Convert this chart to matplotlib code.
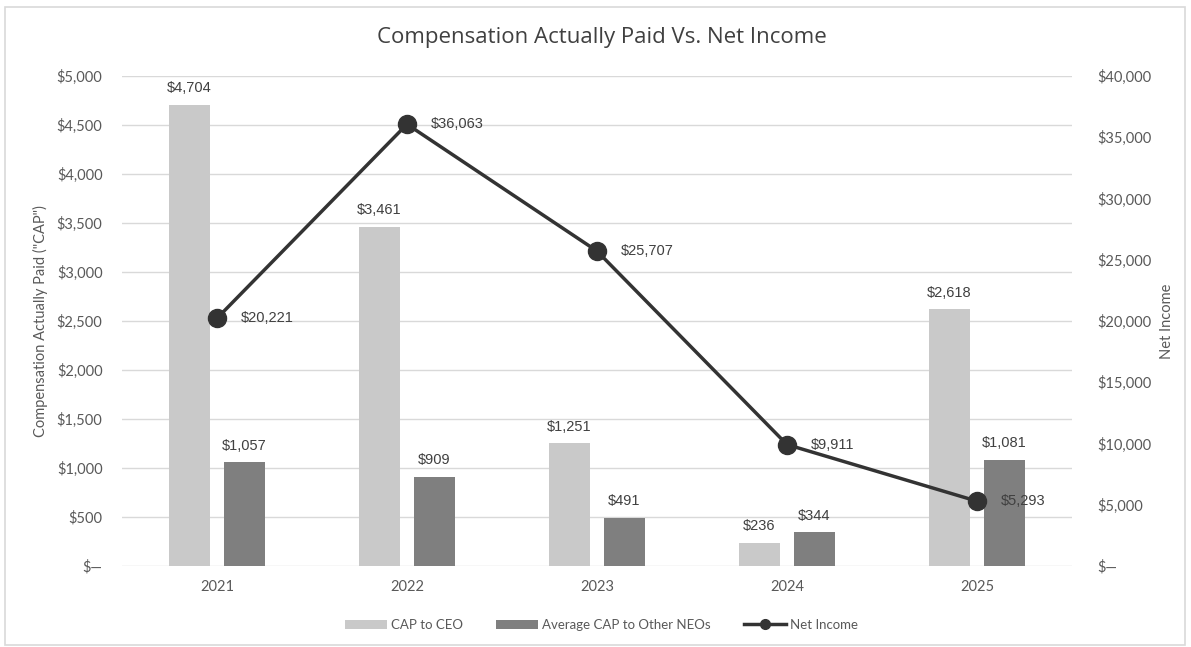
import matplotlib
matplotlib.use("Agg")
import matplotlib.pyplot as plt
import numpy as np
from matplotlib.patches import Rectangle

years = ["2021", "2022", "2023", "2024", "2025"]
cap_ceo = [4704, 3461, 1251, 236, 2618]
cap_neo = [1057, 909, 491, 344, 1081]
net_income = [20221, 36063, 25707, 9911, 5293]
left_ticks = [0, 500, 1000, 1500, 2000, 2500, 3000, 3500, 4000, 4500, 5000]
right_ticks = [0, 5000, 10000, 15000, 20000, 25000, 30000, 35000, 40000]

plt.rcParams['font.family'] = ['Lato', 'DejaVu Sans']
TXT = '#595959'

fig = plt.figure(figsize=(11.91, 6.47), dpi=100)
fig.patches.append(Rectangle((5/1191, 1 - 645/647), 1180/1191, 638/647, transform=fig.transFigure,
                             fill=False, edgecolor='#d9d9d9', lw=1.2))
ax = fig.add_axes([122/1191, 1 - 566/647, 950/1191, 490/647])
ax2 = ax.twinx()

x = np.arange(len(years))
w = 0.215
off = 0.145
b1 = ax.bar(x - off, cap_ceo, w, color='#c9c9c9', label='CAP to CEO', zorder=2)
b2 = ax.bar(x + off, cap_neo, w, color='#7f7f7f', label='Average CAP to Other NEOs', zorder=2)

def fmt(v):
    return "$" + format(v, ",")

for rect, v in zip(list(b1) + list(b2), cap_ceo + cap_neo):
    ax.annotate(fmt(v), (rect.get_x() + rect.get_width() / 2, v), xytext=(0, 7),
                textcoords='offset points', ha='center', va='bottom', fontsize=10.5, color='#404040',
                family=['Liberation Sans', 'DejaVu Sans'])

ln, = ax2.plot(x, net_income, color='#333333', lw=2.5, marker='o', markersize=13,
               markerfacecolor='#333333', markeredgecolor='#333333', label='Net Income', zorder=3)
for xi, v in zip(x, net_income):
    ax2.annotate(fmt(v), (xi, v), xytext=(17, 0), textcoords='offset points', ha='left',
                 va='center', fontsize=10.5, color='#404040', family=['Liberation Sans', 'DejaVu Sans'])

ax.set_xlim(-0.5, len(years) - 0.5)
ax.set_ylim(0, 5000)
ax2.set_ylim(0, 40000)
ax.set_yticks(left_ticks)
ax.set_yticklabels(["$\u2014" if t == 0 else fmt(t) for t in left_ticks])
ax2.set_yticks(right_ticks)
ax2.set_yticklabels(["$\u2014" if t == 0 else fmt(t) for t in right_ticks])
ax.set_xticks(x)
ax.set_xticklabels(years)

for a in (ax, ax2):
    for s in a.spines.values():
        s.set_visible(False)
    a.tick_params(length=0, colors=TXT, labelsize=10.5)
ax.tick_params(axis='y', pad=14)
ax2.tick_params(axis='y', pad=18)
ax.tick_params(axis='x', pad=10)
ax.grid(axis='y', color='#d9d9d9', lw=1, zorder=0)
ax.set_axisbelow(True)

ax.set_ylabel('Compensation Actually Paid ("CAP")', color=TXT, fontsize=10.5, labelpad=6)
ax2.set_ylabel('Net Income', color=TXT, fontsize=10.5, labelpad=6)

fig.text(0.505, 1 - 38/647, 'Compensation Actually Paid Vs. Net Income', ha='center', va='center',
         fontsize=16, color='#404040', family=['Open Sans', 'DejaVu Sans'])

handles = [b1, b2, ln]
fig.legend(handles, [h.get_label() for h in handles], loc='center', bbox_to_anchor=(0.505, 1 - 625/647),
           ncol=3, frameon=False, fontsize=9.5, labelcolor=TXT, handlelength=3.2, columnspacing=2.5,
           handletextpad=0.3)
for l in fig.legends[0].get_lines():
    l.set_markersize(7)

fig.savefig('out.png', dpi=100)
